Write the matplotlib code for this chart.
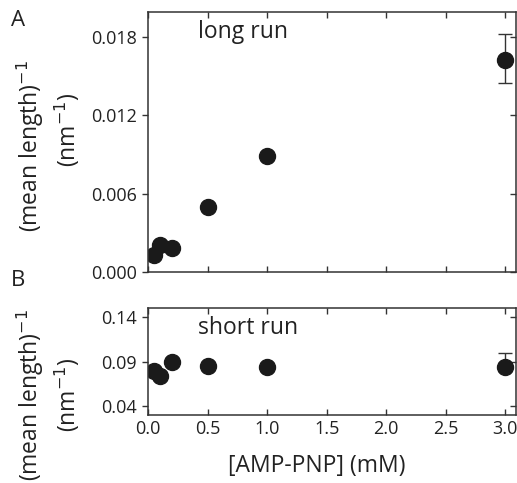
import matplotlib
matplotlib.use("Agg")
import matplotlib.pyplot as plt
from matplotlib.lines import TICKLEFT

plt.rcParams['font.family'] = ['Open Sans', 'DejaVu Sans']

# AMP-PNP concentration (mM)
conc = [0.05, 0.1, 0.2, 0.5, 1.0, 3.0]
# inverse mean length (nm^-1)
long_run = [0.0013, 0.0021, 0.0018, 0.0050, 0.00885, 0.0162]
long_err_lo = [0, 0, 0, 0, 0, 0.0017]
long_err_hi = [0, 0, 0, 0, 0, 0.0020]
short_run = [0.080, 0.0735, 0.090, 0.0855, 0.0845, 0.0845]
short_err_lo = [0, 0, 0, 0, 0, 0]
short_err_hi = [0, 0, 0, 0, 0, 0.016]

xticks = [0.0, 0.5, 1.0, 1.5, 2.0, 2.5, 3.0]
xlabels = ['0.0', '0.5', '1.0', '1.5', '2.0', '2.5', '3.0']
yticks_a = [0.000, 0.006, 0.012, 0.018]
ylabels_a = ['0.000', '0.006', '0.012', '0.018']
yticks_b = [0.04, 0.09, 0.14]
ylabels_b = ['0.04', '0.09', '0.14']

ink = '#222222'
fig = plt.figure(figsize=(5.17, 4.83), dpi=100)
axA = fig.add_axes([0.2863, 0.4369, 0.7118, 0.5383])
axB = fig.add_axes([0.2863, 0.1408, 0.7118, 0.2215])

for ax in (axA, axB):
    for s in ax.spines.values():
        s.set_linewidth(1.1)
        s.set_color('#333333')
    ax.set_xlim(0, 3.09)
    ax.set_xticks(xticks)
    ax.tick_params(axis='both', top=True, bottom=True, left=True, right=True,
                   direction='in', length=4, width=1, labelsize=13,
                   labelcolor=ink, colors='#333333')
    ax.tick_params(axis='y', pad=8)

def outward_left(ax):
    # left ticks stick out of the frame, the others point inward
    for t in ax.yaxis.get_major_ticks():
        t.tick1line.set_marker(TICKLEFT)

# panel A
axA.errorbar(conc, long_run, yerr=[long_err_lo, long_err_hi], fmt='o', color='#1a1a1a',
             markersize=11.5, ecolor='#333333', elinewidth=1, capsize=5, capthick=1)
axA.set_ylim(0, 0.0199)
axA.set_yticks(yticks_a)
axA.set_yticklabels(ylabels_a)
axA.tick_params(axis='x', labelbottom=False)
outward_left(axA)
axA.text(0.42, 0.0184, 'long run', fontsize=16.5, color=ink, va='center', ha='left')

# panel B
axB.errorbar(conc, short_run, yerr=[short_err_lo, short_err_hi], fmt='o', color='#1a1a1a',
             markersize=11.5, ecolor='#333333', elinewidth=1, capsize=5, capthick=1)
axB.set_ylim(0.03, 0.1507)
axB.set_yticks(yticks_b)
axB.set_yticklabels(ylabels_b)
axB.set_xticklabels(xlabels)
outward_left(axB)
axB.text(0.42, 0.128, 'short run', fontsize=16.5, color=ink, va='center', ha='left')

fig.text(317 / 517, 1 - 466 / 483, '[AMP-PNP] (mM)', fontsize=16.5, color=ink,
         ha='center', va='center')

# y labels and panel letters
fig.text(30 / 517, 1 - 146 / 483, '(mean length)$^{-1}$', rotation=90, fontsize=16.5,
         color=ink, ha='center', va='center')
fig.text(67 / 517, 1 - 130 / 483, '(nm$^{-1}$)', rotation=90, fontsize=16.5,
         color=ink, ha='center', va='center')
fig.text(30 / 517, 1 - 395 / 483, '(mean length)$^{-1}$', rotation=90, fontsize=16.5,
         color=ink, ha='center', va='center')
fig.text(67 / 517, 1 - 395 / 483, '(nm$^{-1}$)', rotation=90, fontsize=16.5,
         color=ink, ha='center', va='center')
fig.text(18 / 517, 1 - 21 / 483, 'A', fontsize=16, color=ink, ha='center', va='center')
fig.text(18 / 517, 1 - 280 / 483, 'B', fontsize=16, color=ink, ha='center', va='center')

fig.savefig('out.png', dpi=100)
